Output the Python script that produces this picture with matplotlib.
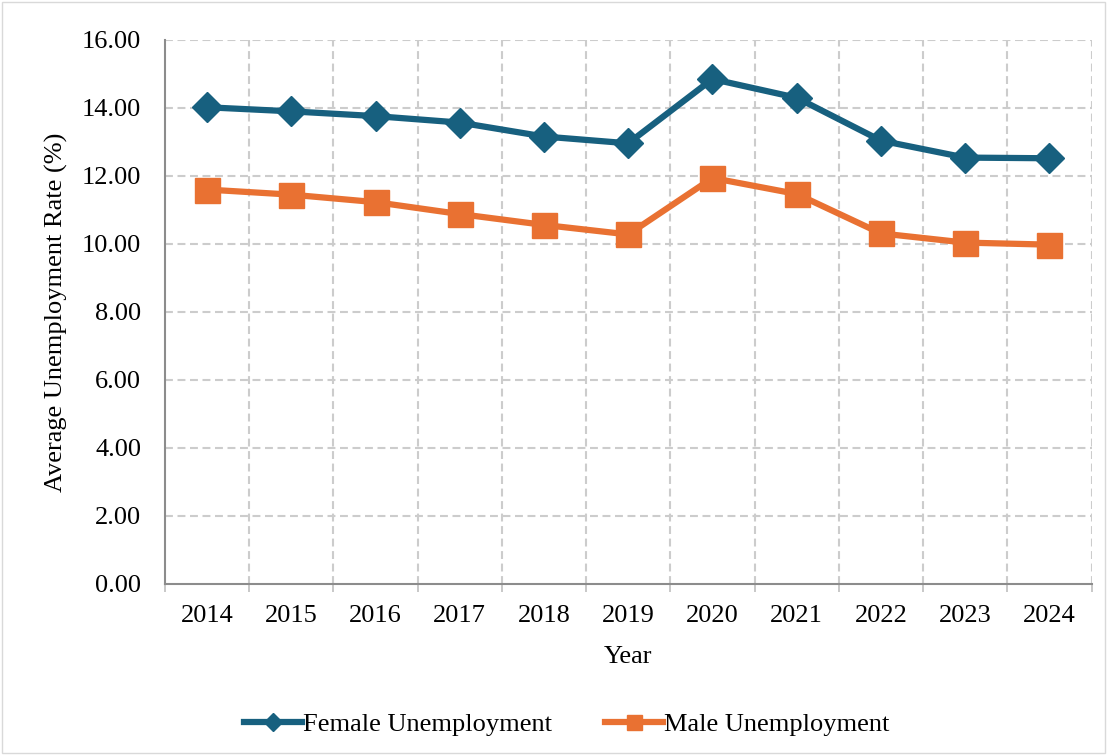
import matplotlib.pyplot as plt
from matplotlib.patches import Rectangle

plt.rcParams['font.family'] = ['Liberation Serif', 'DejaVu Serif']

years = ["2014", "2015", "2016", "2017", "2018", "2019", "2020", "2021", "2022", "2023", "2024"]
female = [14.02, 13.90, 13.76, 13.57, 13.16, 12.96, 14.85, 14.30, 13.04, 12.54, 12.52]
male = [11.60, 11.45, 11.23, 10.88, 10.56, 10.28, 11.94, 11.47, 10.31, 10.04, 9.98]
yticks = [0, 2, 4, 6, 8, 10, 12, 14, 16]

fig = plt.figure(figsize=(11.07, 7.55), dpi=100)
ax = fig.add_axes([0.149, 0.2265, 0.837, 0.7206])

xs = list(range(len(years)))
ax.plot(xs, female, color="#17607F", linewidth=4.5, marker="D", markersize=15,
        label="Female Unemployment", zorder=3)
ax.plot(xs, male, color="#E97132", linewidth=4.5, marker="s", markersize=18,
        label="Male Unemployment", zorder=3)

ax.set_xlim(-0.5, len(years) - 0.5)
ax.set_ylim(0, 16)
ax.set_xticks(xs)
ax.set_xticklabels(years)
ax.set_yticks(yticks)
ax.set_yticklabels(["%.2f" % v for v in yticks])
ax.tick_params(axis="both", labelsize=19, length=0, colors="black")
ax.tick_params(axis="x", pad=15)
ax.tick_params(axis="y", pad=17)

# vertical gridlines sit on category boundaries (Excel style)
bounds = [i + 0.5 for i in range(-1, len(years))]
ax.set_xticks(bounds, minor=True)
ax.tick_params(axis="x", which="minor", length=6, color="#BFBFBF", width=1.2)
dash = (0, (3.8, 2.2))
for b in bounds[1:]:
    ax.axvline(b, color="#CCCCCC", linestyle=dash, linewidth=1.5, zorder=1)
for v in yticks[1:]:
    ax.axhline(v, color="#CCCCCC", linestyle=dash, linewidth=1.5, zorder=1)

for s in ["top", "right"]:
    ax.spines[s].set_visible(False)
ax.spines["left"].set_color("#8C8C8C")
ax.spines["bottom"].set_color("#8C8C8C")
ax.spines["left"].set_linewidth(1.5)
ax.spines["bottom"].set_linewidth(1.5)

ax.set_xlabel("Year", fontsize=19, labelpad=14)
ax.set_ylabel("Average Unemployment Rate (%)", fontsize=19, labelpad=10)

fig.legend(loc="center", bbox_to_anchor=(0.512, 0.041), ncol=2, frameon=False,
           fontsize=19, handlelength=2.2, handletextpad=0.05, columnspacing=2.0,
           markerscale=0.6)

fig.patches.append(Rectangle((0.002, 0.002), 0.996, 0.996, transform=fig.transFigure,
                             fill=False, edgecolor="#D9D9D9", linewidth=1))

plt.savefig("out.png", dpi=100)
